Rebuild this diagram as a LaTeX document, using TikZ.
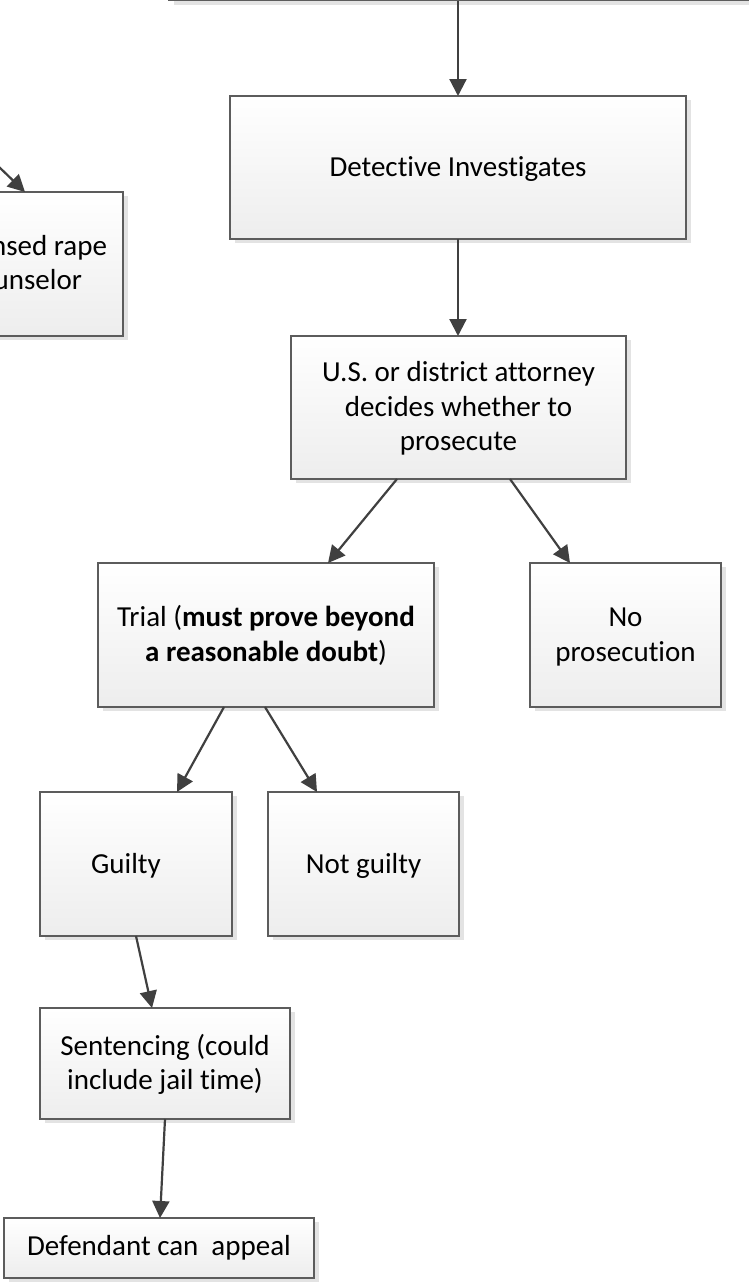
\documentclass[tikz,border=0pt]{standalone}
\usepackage{fontspec}
\setmainfont{Carlito}[Ligatures=NoCommon]
\usetikzlibrary{arrows.meta,shadows,calc}
\definecolor{arrowgray}{HTML}{404040}
\definecolor{bordergray}{HTML}{5C5C5C}
\definecolor{shadowgray}{HTML}{E3E3E3}
\newcommand\mytop{\rule{0pt}{0.95em}}
\newcommand\mybot{\rule[-0.33em]{0pt}{0pt}}
\tikzset{
  box/.style={rectangle, draw=bordergray, line width=1.3pt, inner sep=0pt, outer sep=0pt,
    top color=white, bottom color=black!7, align=center,
    font=\fontsize{29}{34.5}\selectfont,
    drop shadow={shadow xshift=4.5pt, shadow yshift=-4pt, fill=shadowgray, opacity=1}},
  txt/.style={inner sep=0pt, outer sep=0pt, font=\fontsize{29}{34.5}\selectfont},
  conn/.style={draw=arrowgray, line width=2.2pt, -{Triangle[length=17pt,width=17pt]}}
}
\begin{document}
\begin{tikzpicture}[x=1pt,y=-1pt]
\useasboundingbox[fill=white] (0,0) rectangle (748,1282);
% partially visible boxes
\node[box, minimum width=731pt, minimum height=100pt] (topbox) at (534.5,-49.5) {};
\node[box, minimum width=273pt, minimum height=144pt] (lbox) at (-13.5,264) {};
\node[txt, anchor=base east] (ltxtA) at (107,255) {nsed rape};
\node[txt, anchor=base east] (ltxtB) at (82,289) {unselor};
% main boxes
\node[box, minimum width=456pt, minimum height=143pt] (det) at (458,167.5) {\mytop Detective Investigates\mybot};
\node[box, minimum width=335pt, minimum height=143pt] (atty) at (458.5,407.5) {\mytop U.S. or district attorney\\decides whether to\\prosecute\mybot};
\node[box, minimum width=336pt, minimum height=144pt] (trial) at (266,635) {\mytop Trial (\textbf{must prove beyond}\\\textbf{a reasonable doubt})\mybot};
\node[box, minimum width=191pt, minimum height=144pt] (nopros) at (625.5,635) {\mytop No\\prosecution\mybot};
\node[box, minimum width=192pt, minimum height=144pt] (guilty) at (136,864) {\mytop\hspace*{-20pt}Guilty\mybot};
\node[box, minimum width=191pt, minimum height=144pt] (notg) at (363.5,864) {\mytop Not guilty\mybot};
\node[box, minimum width=250pt, minimum height=111pt] (sent) at (165,1063.5) {\mytop Sentencing (could\\include jail time)\mybot};
\node[box, minimum width=310pt, minimum height=60pt] (def) at (159,1248) {Defendant can\ \ appeal};
% connectors
\coordinate (lstart) at (-30,139);
\draw[conn] (lstart) -- ([xshift=38.5pt]lbox.north);
\draw[conn] (topbox.south -| det.north) -- (det.north);
\draw[conn] (det.south) -- (det.south |- atty.north);
\draw[conn] ([xshift=-61.5pt]atty.south) -- ([xshift=62pt]trial.north);
\draw[conn] ([xshift=51.5pt]atty.south) -- ([xshift=-55.5pt]nopros.north);
\draw[conn] ([xshift=-42pt]trial.south) -- ([xshift=41pt]guilty.north);
\draw[conn] ([xshift=-1pt]trial.south) -- ([xshift=-46.5pt]notg.north);
\draw[conn] (guilty.south) -- ([xshift=-13pt]sent.north);
\draw[conn] (sent.south) -- ([xshift=1pt]def.north);
\end{tikzpicture}
\end{document}
